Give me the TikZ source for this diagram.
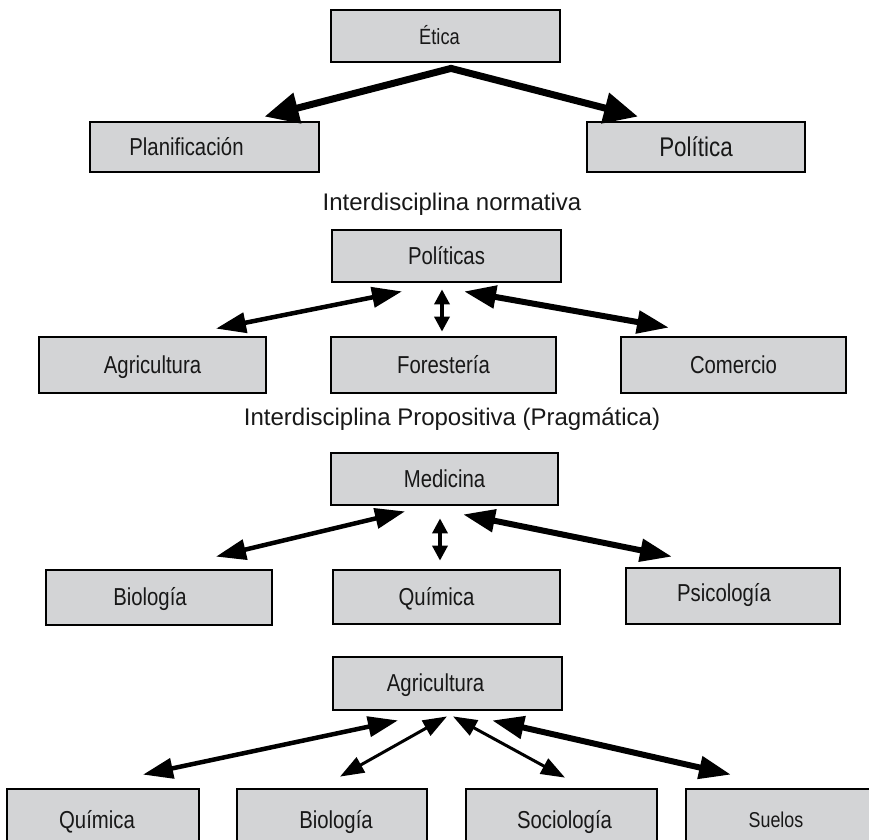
\documentclass[tikz,border=0pt]{standalone}
\usepackage{fontspec}
\setmainfont{Liberation Sans}
\newfontfamily\condfont[FakeStretch=0.83]{Liberation Sans}
\usetikzlibrary{arrows.meta}
\definecolor{boxgray}{RGB}{211,212,214}
\definecolor{ink}{RGB}{24,24,24}
\begin{document}
\begin{tikzpicture}[x=1pt,y=-1pt,
  box/.style={draw=black, fill=boxgray, line width=2.8pt, rectangle, inner sep=0pt},
  lbl/.style={font=\condfont\fontsize{24.5}{28}\selectfont, text=ink, inner sep=0pt, anchor=base},
  caption/.style={font=\fontsize{24}{28}\selectfont, text=ink, inner sep=0pt, anchor=base},
  bigarrow/.style={line width=7pt, line join=miter,
    {Triangle[length=34pt,width=30pt]}-{Triangle[length=34pt,width=30pt]}},
  boldarrow/.style={line width=6pt,
    {Triangle[length=32pt,width=22pt]}-{Triangle[length=32pt,width=22pt]}},
  medarrow/.style={line width=4.5pt,
    {Triangle[length=30pt,width=20pt]}-{Triangle[length=30pt,width=20pt]}},
  thinarrow/.style={line width=3pt,
    {Triangle[length=24pt,width=17pt]}-{Triangle[length=24pt,width=17pt]}},
  vertarrow/.style={line width=3.5pt,
    {Triangle[length=15pt,width=15pt]}-{Triangle[length=15pt,width=15pt]}}]
\clip (0,0) rectangle (869,839);
\fill[white] (0,0) rectangle (869,839);

% --- Interdisciplina normativa ---
\node[box, minimum width=229pt, minimum height=52pt] (etica) at (445.5,36) {};
\node[box, minimum width=229pt, minimum height=50pt] (plan) at (204.5,147) {};
\node[box, minimum width=218pt, minimum height=50pt] (polit) at (696,147) {};
\node[lbl, font=\condfont\fontsize{22}{26}\selectfont] (eticaL) at ([xshift=-6pt,yshift=-8pt]etica.center) {Ética};
\node[lbl] (planL) at ([xshift=-18pt,yshift=-8pt]plan.center) {Planificación};
\node[lbl, font=\condfont\fontsize{27}{30}\selectfont] (politL) at ([yshift=-9pt]polit.center) {Política};
\draw[bigarrow] ([xshift=60pt,yshift=4pt]plan.north) -- ([xshift=5.5pt,yshift=-5pt]etica.south) -- ([xshift=-58pt,yshift=4pt]polit.north);
\node[caption] (cap1) at (452,210) {Interdisciplina normativa};

% --- Interdisciplina propositiva ---
\node[box, minimum width=229pt, minimum height=52pt] (politicas) at (446.5,256) {};
\node[box, minimum width=227pt, minimum height=56pt] (agri1) at (152.5,365) {};
\node[box, minimum width=225pt, minimum height=56pt] (forest) at (443.5,365) {};
\node[box, minimum width=225pt, minimum height=56pt] (comercio) at (733.5,365) {};
\node[lbl] (politicasL) at ([yshift=-8pt]politicas.center) {Políticas};
\node[lbl] (agri1L) at ([yshift=-8pt]agri1.center) {Agricultura};
\node[lbl] (forestL) at ([yshift=-8pt]forest.center) {Forestería};
\node[lbl] (comercioL) at ([yshift=-8pt]comercio.center) {Comercio};
\draw[medarrow] ([xshift=-44.5pt,yshift=-8pt]politicas.south) -- ([xshift=63.5pt,yshift=7pt]agri1.north);
\draw[vertarrow] ([xshift=-4.5pt,yshift=-6pt]politicas.south) -- ([xshift=-1.5pt,yshift=4pt]forest.north);
\draw[boldarrow] ([xshift=17.5pt,yshift=-8pt]politicas.south) -- ([xshift=-64.5pt,yshift=8pt]comercio.north);
\node[caption] (cap2) at (452,425) {Interdisciplina Propositiva (Pragmática)};

% --- Medicina ---
\node[box, minimum width=227pt, minimum height=52pt] (medicina) at (444.5,479) {};
\node[box, minimum width=226pt, minimum height=55pt] (bio1) at (159,597.5) {};
\node[box, minimum width=227pt, minimum height=54pt] (quim1) at (446.5,597) {};
\node[box, minimum width=214pt, minimum height=56pt] (psico) at (733,596) {};
\node[lbl] (medicinaL) at ([yshift=-8pt]medicina.center) {Medicina};
\node[lbl] (bio1L) at ([xshift=-9pt,yshift=-8pt]bio1.center) {Biología};
\node[lbl] (quim1L) at ([xshift=-10pt,yshift=-8pt]quim1.center) {Química};
\node[lbl] (psicoL) at ([xshift=-9pt,yshift=-5pt]psico.center) {Psicología};
\draw[medarrow] ([xshift=-39.5pt,yshift=-5pt]medicina.south) -- ([xshift=57pt,yshift=12pt]bio1.north);
\draw[vertarrow] ([xshift=-4.5pt,yshift=-12pt]medicina.south) -- ([xshift=-6.5pt,yshift=8pt]quim1.north);
\draw[boldarrow] ([xshift=18.5pt,yshift=-8pt]medicina.south) -- ([xshift=-61pt,yshift=10pt]psico.north);

% --- Agricultura ---
\node[box, minimum width=229pt, minimum height=53pt] (agri2) at (447.5,683.5) {};
\node[box, minimum width=192pt, minimum height=62pt] (quim2) at (103,820) {};
\node[box, minimum width=190pt, minimum height=62pt] (bio2) at (332,820) {};
\node[box, minimum width=191pt, minimum height=62pt] (socio) at (561.5,820) {};
\node[box, minimum width=194pt, minimum height=62pt] (suelos) at (783,820) {};
\node[lbl] (agri2L) at ([xshift=-12pt,yshift=-8pt]agri2.center) {Agricultura};
\node[lbl] (quim2L) at ([xshift=-6pt,yshift=-8pt]quim2.center) {Química};
\node[lbl] (bio2L) at ([xshift=4pt,yshift=-8pt]bio2.center) {Biología};
\node[lbl] (socioL) at ([xshift=3pt,yshift=-8pt]socio.center) {Sociología};
\node[lbl, font=\condfont\fontsize{21.5}{25}\selectfont] (suelosL) at ([xshift=-7pt,yshift=-7pt]suelos.center) {Suelos};
\draw[medarrow] ([xshift=-49.5pt,yshift=-9pt]agri2.south) -- ([xshift=40pt,yshift=13pt]quim2.north);
\draw[thinarrow] ([xshift=-0.5pt,yshift=-5pt]agri2.south) -- ([xshift=8pt,yshift=11pt]bio2.north);
\draw[thinarrow] ([xshift=5.5pt,yshift=-5pt]agri2.south) -- ([xshift=3.5pt,yshift=10pt]socio.north);
\draw[boldarrow] ([xshift=44.5pt,yshift=-9pt]agri2.south) -- ([xshift=-52pt,yshift=13pt]suelos.north);
\end{tikzpicture}
\end{document}
